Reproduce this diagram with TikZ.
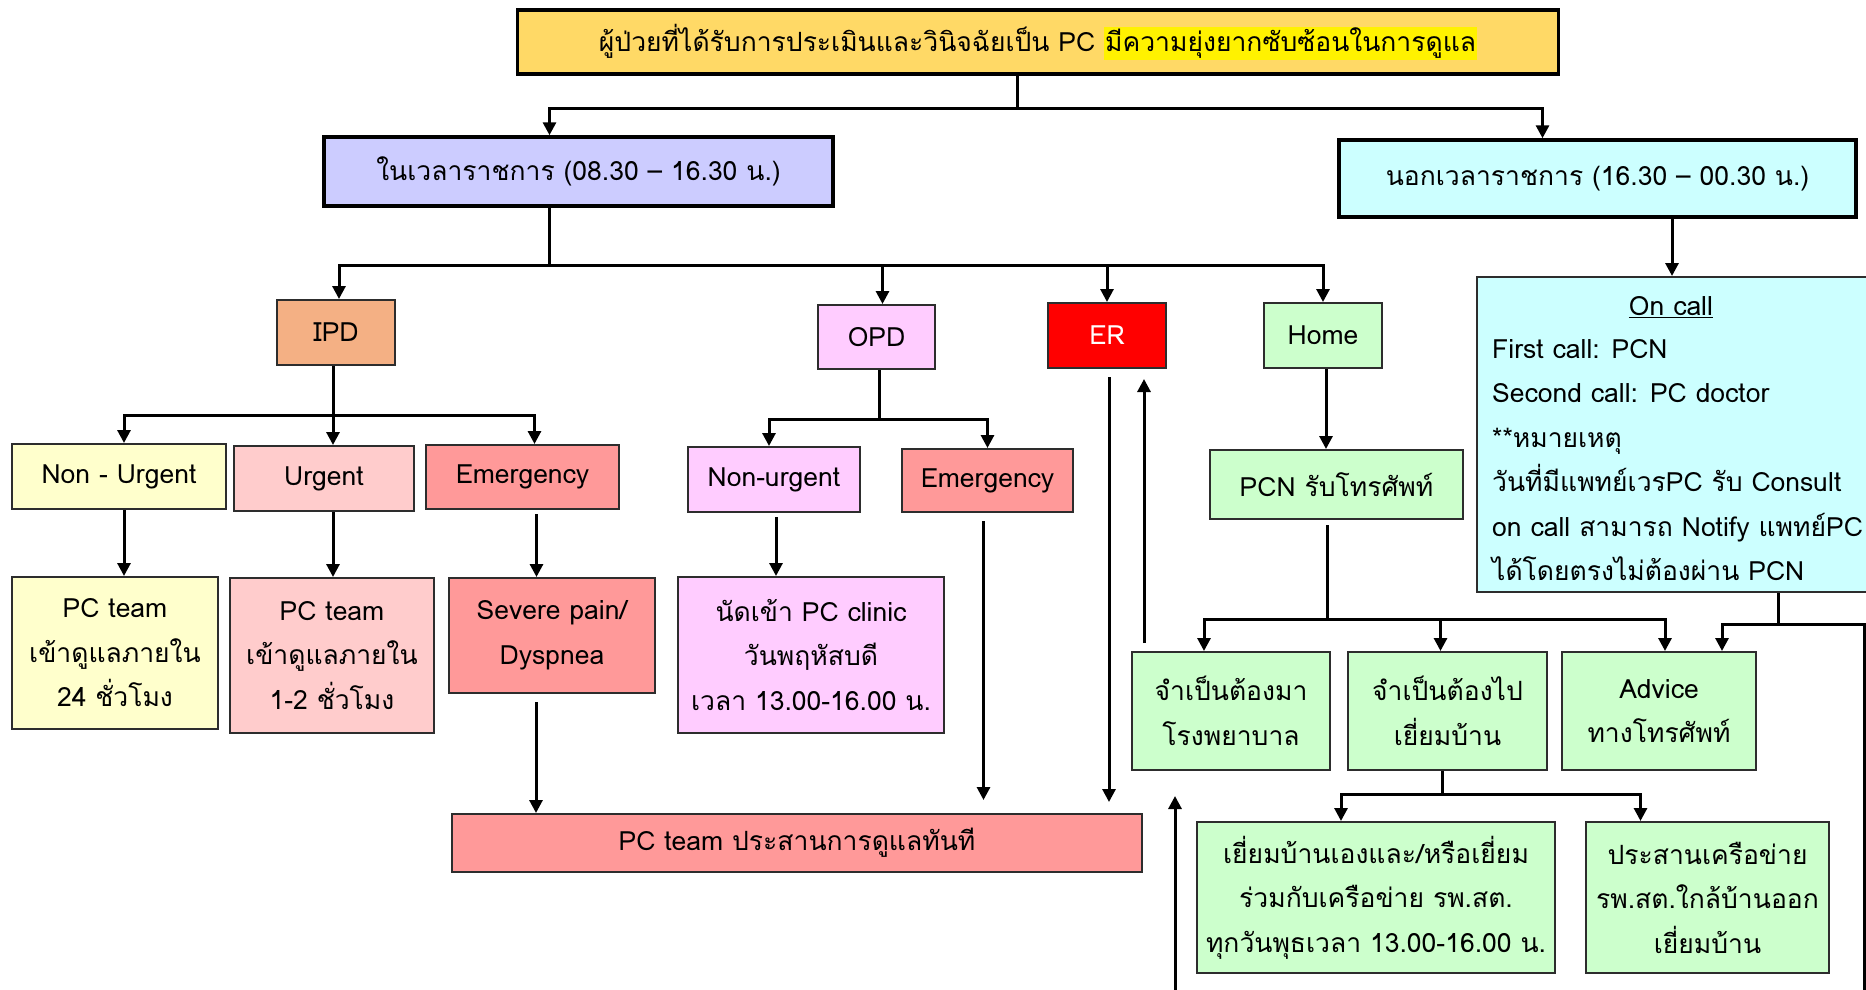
\documentclass[tikz,border=0pt]{standalone}
\usepackage{fontspec}
\setmainfont[Script=Thai]{Loma}
\usetikzlibrary{arrows.meta}

\definecolor{gold}{RGB}{255,217,102}
\definecolor{lav}{RGB}{204,204,255}
\definecolor{aqua}{RGB}{204,255,255}
\definecolor{peach}{RGB}{244,176,132}
\definecolor{lilac}{RGB}{255,204,255}
\definecolor{mint}{RGB}{204,255,204}
\definecolor{cream}{RGB}{255,255,204}
\definecolor{rose}{RGB}{255,204,204}
\definecolor{salmon}{RGB}{255,153,153}
\definecolor{edge}{RGB}{45,45,45}

\tikzset{
  box/.style={draw=edge, line width=2pt, align=center, inner sep=0pt,
    font=\fontsize{26.5}{44.5}\selectfont},
  bigbox/.style={box, draw=black, line width=3.5pt},
  link/.style={line width=3pt},
  arr/.style={link, -{Triangle[length=13pt,width=13pt]}},
}
\setlength{\fboxsep}{1pt}

\begin{document}
\begin{tikzpicture}[x=1pt,y=-1pt]
\useasboundingbox (0,0) rectangle (1866,990);

%% top and the two time blocks
\node[bigbox, fill=gold, minimum width=1041, minimum height=64] (top) at (1038,42)
  {ผู้ป่วยที่ได้รับการประเมินและวินิจฉัยเป็น PC \colorbox{yellow}{มีความยุ่งยากซับซ้อนในการดูแล}};
\node[bigbox, fill=lav, minimum width=509, minimum height=69] (intime) at (578.5,171.5)
  {ในเวลาราชการ (08.30 – 16.30 น.)};
\node[bigbox, fill=aqua, minimum width=517, minimum height=77] (offtime) at (1597.5,178.5)
  {นอกเวลาราชการ (16.30 – 00.30 น.)};

\draw[link] ([xshift=-21]top.south) -- ++(0,33) coordinate (tj);
\draw[arr] (tj) -| ([xshift=-29]intime.north);
\draw[arr] (tj) -| ([xshift=-55]offtime.north);

% units
\node[box, fill=peach, minimum width=118, minimum height=65] (ipd) at (336,332.5) {IPD};
\node[box, fill=lilac, minimum width=117, minimum height=64] (opd) at (876.5,337) {OPD};
\node[box, fill=red, text=white, minimum width=118, minimum height=65] (er) at (1107,335.5) {ER};
\node[box, fill=mint, minimum width=118, minimum height=65] (home) at (1323,335.5) {Home};

\draw[link] ([xshift=-29]intime.south) -- ++(0,58) coordinate (bj);
\draw[arr] (bj) -| ([xshift=3]ipd.north);
\draw[arr] (bj) -| ([xshift=6]opd.north);
\draw[arr] (bj) -| (er.north);
\draw[arr] (bj) -| (home.north);

% on call
\node[box, fill=aqua, anchor=north west, minimum width=404, minimum height=315] (oncall) at (1476,276) {};
\node[font=\fontsize{26.5}{44.5}\selectfont, inner sep=0pt] (oncallhead) at (1671,307) {\underline{On call}};
\node[font=\fontsize{26.5}{44.5}\selectfont, align=left, anchor=north west, inner sep=0pt] (oncalltxt) at (1492,339)
  {First call: PCN\\
   Second call: PC doctor\\
   **หมายเหตุ\\
   วันที่มีแพทย์เวรPC รับ Consult\\
   on call สามารถ Notify แพทย์PC\\
   ได้โดยตรงไม่ต้องผ่าน PCN};

\draw[arr] ([xshift=-7]oncall.north |- offtime.south) -- ([xshift=-7]oncall.north);

% IPD
\node[box, fill=cream, minimum width=214, minimum height=65] (nonurg) at (119,476.5) {Non - Urgent};
\node[box, fill=rose, minimum width=180, minimum height=65] (urg) at (324,478.5) {Urgent};
\node[box, fill=salmon, minimum width=193, minimum height=64] (emerg) at (522.5,477) {Emergency};

\draw[link] ([xshift=-3]ipd.south) -- ++(0,49) coordinate (ij);
\draw[arr] (ij) -| ([xshift=5]nonurg.north);
\draw[arr] (ij) -- (ij |- urg.north);
\draw[arr] (ij) -| ([xshift=12]emerg.north);

\node[box, fill=cream, minimum width=206, minimum height=152] (pcone) at (115,653)
  {PC team\\เข้าดูแลภายใน\\24 ชั่วโมง};
\node[box, fill=rose, minimum width=204, minimum height=155] (pctwo) at (332,655.5)
  {PC team\\เข้าดูแลภายใน\\1-2 ชั่วโมง};
\node[box, fill=salmon, minimum width=206, minimum height=115] (severe) at (552,635.5)
  {Severe pain/\\Dyspnea};

\draw[arr] ([xshift=5]nonurg.south) -- ([xshift=5]nonurg.south |- pcone.north);
\draw[arr] ([xshift=9]urg.south) -- ([xshift=9]urg.south |- pctwo.north);
\draw[arr] ([xshift=14,yshift=-4]emerg.south) -- ([xshift=14]emerg.south |- severe.north);

% OPD
\node[box, fill=lilac, minimum width=172, minimum height=65] (nonurgo) at (774,479.5) {Non-urgent};
\node[box, fill=salmon, minimum width=171, minimum height=63] (emergo) at (987.5,480.5) {Emergency};

\draw[link] ([xshift=3]opd.south) -- ++(0,49) coordinate (oj);
\draw[arr] (oj) -| ([xshift=-5]nonurgo.north);
\draw[arr] (oj) -| (emergo.north);

\node[box, fill=lilac, minimum width=266, minimum height=156] (clinic) at (811,655)
  {นัดเข้า PC clinic\\วันพฤหัสบดี\\เวลา 13.00-16.00 น.};
\draw[arr] ([xshift=2,yshift=-4]nonurgo.south) -- ([xshift=2]nonurgo.south |- clinic.north);

% PC team now
\node[box, fill=salmon, minimum width=690, minimum height=58] (team) at (797,843)
  {PC team ประสานการดูแลทันที};

\draw[arr] ([xshift=-16,yshift=-8]severe.south) -- ([xshift=-16]severe.south |- team.north);
\draw[arr, shorten >=13] ([xshift=-4,yshift=-8]emergo.south) -- ([xshift=-4]emergo.south |- team.north);
\draw[arr, shorten >=11] ([xshift=2,yshift=-8]er.south) -- ([xshift=2]er.south |- team.north);

% Home
\node[box, fill=mint, minimum width=253, minimum height=69] (pcn) at (1336.5,484.5) {PCN รับโทรศัพท์};
\draw[arr] ([xshift=3]home.south) -- ([xshift=3]home.south |- pcn.north);

\node[box, fill=mint, minimum width=198, minimum height=118] (hosp) at (1231,711)
  {จำเป็นต้องมา\\โรงพยาบาล};
\node[box, fill=mint, minimum width=199, minimum height=118] (visit) at (1447.5,711)
  {จำเป็นต้องไป\\เยี่ยมบ้าน};
\node[box, fill=mint, minimum width=194, minimum height=118] (advice) at (1659,711)
  {Advice\\ทางโทรศัพท์};

\draw[link] ([xshift=-9,yshift=-5]pcn.south) -- ([xshift=-9]pcn.south |- 0,619) coordinate (pj);
\draw[arr] (pj) -| ([xshift=-27]hosp.north);
\draw[arr] (pj) -| ([xshift=-7]visit.north);
\draw[arr] (pj) -| ([xshift=6]advice.north);

\draw[arr, shorten >=10, shorten <=8] ([xshift=13]hosp.north west) -- ([xshift=13]hosp.north west |- er.south);

% on call back to hospital
\coordinate (loop) at (1864,1000);
\draw[link] ([xshift=99]oncall.south) -- ++(0,31) coordinate (cj);
\draw[arr] (cj) -| ([xshift=63]advice.north);
\draw[arr, shorten >=25] (cj) -| (loop) -| ([xshift=44]hosp.south west);

% home visit
\node[box, fill=mint, minimum width=358, minimum height=151] (selfv) at (1376,897.5)
  {เยี่ยมบ้านเองและ/หรือเยี่ยม\\ร่วมกับเครือข่าย รพ.สต.\\ทุกวันพุธเวลา 13.00-16.00 น.};
\node[box, fill=mint, minimum width=243, minimum height=151] (netw) at (1707.5,897.5)
  {ประสานเครือข่าย\\รพ.สต.ใกล้บ้านออก\\เยี่ยมบ้าน};

\draw[link] ([xshift=-5]visit.south) -- ++(0,23) coordinate (vj);
\draw[arr] (vj) -| ([xshift=-35]selfv.north);
\draw[arr] (vj) -| ([xshift=-67]netw.north);

\end{tikzpicture}
\end{document}
